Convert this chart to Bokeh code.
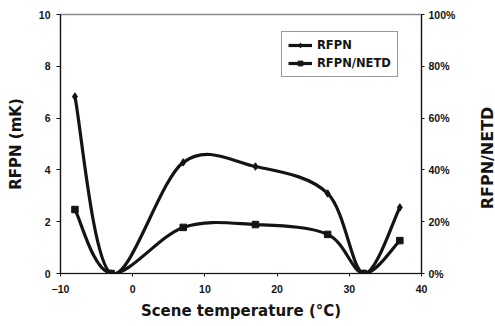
import math
import numpy as np
from bokeh.plotting import figure
from bokeh.layouts import row
from bokeh.core.properties import value
from bokeh.models import (Range1d, LinearAxis, FixedTicker, PrintfTickFormatter,
                          Legend, LegendItem, ColumnDataSource)
from bokeh.embed import file_html
from bokeh.resources import INLINE

# ---- data ----
temps = [-8, -3, 7, 17, 27, 32, 37]            # scene temperature (°C)
rfpn_mk = [6.83, 0.0, 4.29, 4.13, 3.09, 0.0, 2.55]   # RFPN (mK)
rfpn_netd_pct = [24.7, 0.0, 17.8, 18.9, 15.1, 0.0, 12.7]  # RFPN/NETD (%)
x_ticks = [-10, 0, 10, 20, 30, 40]
y_ticks = [0, 2, 4, 6, 8, 10]
pct_ticks = [0, 20, 40, 60, 80, 100]
right_title = "RFPN/NETD"

FONT = "Liberation Sans"
TFONT = "DejaVu Sans"
INK = "#141414"


def smooth_segments(xs, ys):
    """Excel-style smoothed line: cubic Bezier control points between data points."""
    xs = np.asarray(xs, float)
    ys = np.asarray(ys, float)
    n = len(xs)
    d = dict(x0=[], y0=[], x1=[], y1=[], cx0=[], cy0=[], cx1=[], cy1=[])
    for i in range(n - 1):
        im1 = max(i - 1, 0)
        ip2 = min(i + 2, n - 1)
        d["x0"].append(xs[i]); d["y0"].append(ys[i])
        d["x1"].append(xs[i + 1]); d["y1"].append(ys[i + 1])
        d["cx0"].append(xs[i] + (xs[i + 1] - xs[im1]) / 6)
        d["cy0"].append(ys[i] + (ys[i + 1] - ys[im1]) / 6)
        d["cx1"].append(xs[i + 1] - (xs[ip2] - xs[i]) / 6)
        d["cy1"].append(ys[i + 1] - (ys[ip2] - ys[i]) / 6)
    return ColumnDataSource(d)


p = figure(width=478, height=326, output_backend="svg", toolbar_location=None,
           x_range=Range1d(-10, 40), y_range=Range1d(0, 10),
           min_border_left=60, min_border_right=57, min_border_top=14,
           min_border_bottom=53)
p.extra_y_ranges = {"pct": Range1d(0, 100)}
p.xgrid.visible = False
p.ygrid.visible = False
p.outline_line_color = "#8a8a8a"
p.outline_line_width = 1.5
p.background_fill_color = "white"
p.border_fill_color = "white"

# curves
src1 = smooth_segments(temps, rfpn_mk)
b1 = p.bezier(x0="x0", y0="y0", x1="x1", y1="y1", cx0="cx0", cy0="cy0",
              cx1="cx1", cy1="cy1", source=src1, line_color=INK, line_width=3.2)
s1 = p.scatter(temps, rfpn_mk, marker="diamond", size=7.5, color=INK)

src2 = smooth_segments(temps, rfpn_netd_pct)
b2 = p.bezier(x0="x0", y0="y0", x1="x1", y1="y1", cx0="cx0", cy0="cy0",
              cx1="cx1", cy1="cy1", source=src2, line_color=INK, line_width=3.2,
              y_range_name="pct")
s2 = p.scatter(temps, rfpn_netd_pct, marker="square", size=6.5, color=INK,
               y_range_name="pct")

# axes
def style_axis(ax):
    ax.axis_line_color = INK
    ax.axis_line_width = 1.2
    ax.major_tick_line_color = INK
    ax.minor_tick_line_color = None
    ax.major_tick_in = 0
    ax.major_label_text_font = FONT
    ax.major_label_text_font_style = "bold"
    ax.major_label_text_font_size = "10.5px"
    ax.major_label_text_color = INK
    ax.axis_label_text_font = TFONT
    ax.axis_label_text_font_style = "bold"
    ax.axis_label_text_font_size = "15px"
    ax.axis_label_text_color = INK

xa = p.xaxis[0]
style_axis(xa)
xa.ticker = FixedTicker(ticks=x_ticks)
xa.major_tick_out = 3
xa.major_label_standoff = 8
xa.axis_label = "Scene temperature (°C)"
xa.axis_label_standoff = 6

ya = p.yaxis[0]
style_axis(ya)
ya.ticker = FixedTicker(ticks=y_ticks)
ya.major_tick_out = 4
ya.major_label_standoff = 6
ya.axis_label = "RFPN (mK)"
ya.axis_label_standoff = 11

ra = LinearAxis(y_range_name="pct")
style_axis(ra)
ra.ticker = FixedTicker(ticks=pct_ticks)
ra.formatter = PrintfTickFormatter(format="%d%%")
ra.major_tick_out = 3
ra.major_label_standoff = 4
p.add_layout(ra, "right")

legend = Legend(items=[LegendItem(label="RFPN", renderers=[b1, s1]),
                       LegendItem(label="RFPN/NETD", renderers=[b2, s2])],
                location=(221, 196))
legend.label_text_font = TFONT
legend.label_text_font_style = "bold"
legend.label_text_font_size = "11.5px"
legend.label_text_color = INK
legend.glyph_width = 24
legend.glyph_height = 12
legend.label_standoff = 5
legend.padding = 6
legend.spacing = 4
legend.margin = 0
legend.border_line_color = "#333333"
legend.border_line_width = 1
legend.background_fill_alpha = 1.0
p.add_layout(legend, "center")

# narrow strip on the right that carries the right-hand axis title (reads bottom-to-top)
side = figure(width=17, height=326, output_backend="svg", toolbar_location=None,
              x_range=Range1d(0, 1), y_range=Range1d(0, 10),
              x_axis_location=None, y_axis_location=None,
              min_border_left=0, min_border_right=0, min_border_top=14,
              min_border_bottom=53)
side.xgrid.visible = False
side.ygrid.visible = False
side.outline_line_color = None
side.background_fill_color = "white"
side.border_fill_color = "white"
side.text(x=[0.5], y=[4.46], text=[right_title], angle=math.pi / 2,
          text_align="center", text_baseline="middle",
          text_font=value(TFONT), text_font_style="bold",
          text_font_size="16px", text_color=INK)

layout = row(p, side, spacing=0)
open("out.html", "w").write(file_html(layout, INLINE))
